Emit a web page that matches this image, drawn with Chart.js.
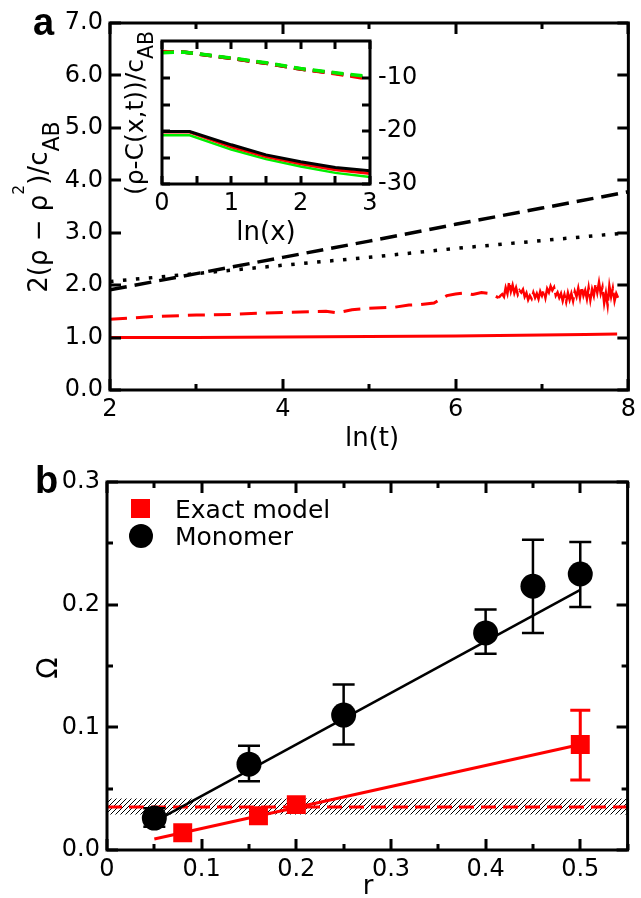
<!DOCTYPE html>
<html>
<head>
<meta charset="utf-8">
<script src="https://cdn.jsdelivr.net/npm/chart.js@4.4.0/dist/chart.umd.min.js"></script>
<style>
body { margin: 0; background: #fff; width: 641px; height: 898px; overflow: hidden; position: relative; }
.box { position: absolute; }
</style>
</head>
<body>
<div class="box" style="left:0;top:0;width:641px;height:460px"><canvas id="panelA"></canvas></div>
<div class="box" style="left:0;top:0;width:440px;height:260px"><canvas id="inset"></canvas></div>
<div class="box" style="left:0;top:460px;width:641px;height:438px"><canvas id="panelB"></canvas></div>
<script>
// ---- panel a : main curves ----
var lineT = [2, 3, 4, 5, 6, 7, 8];
var blackDashed = [1.91, 2.22, 2.53, 2.84, 3.16, 3.47, 3.78];
var blackDotted = [2.07, 2.22, 2.38, 2.53, 2.70, 2.85, 3.00];
var redSolidT = [2, 3, 4, 5, 6, 7, 7.5, 7.87];
var redSolid = [1.00, 1.00, 1.01, 1.02, 1.03, 1.05, 1.06, 1.07];
var redDashedT = [2.0, 2.5, 3.0, 3.4, 3.8, 4.2, 4.5, 4.63, 4.8, 5.0, 5.3, 5.46, 5.6, 5.75, 5.9, 6.0, 6.1, 6.2, 6.3, 6.4, 6.5];
var redDashed = [1.35, 1.40, 1.43, 1.44, 1.47, 1.49, 1.50, 1.47, 1.53, 1.56, 1.58, 1.62, 1.63, 1.66, 1.80, 1.83, 1.85, 1.82, 1.86, 1.84, 1.76];
var redNoisyT = [6.50, 6.52, 6.54, 6.56, 6.58, 6.60, 6.62, 6.64, 6.66, 6.68, 6.70, 6.72, 6.74, 6.76, 6.78, 6.80, 6.82, 6.84,
  6.86, 6.88, 6.90, 6.92, 6.94, 6.96, 6.98, 7.00, 7.02, 7.04, 7.06, 7.08, 7.10, 7.12, 7.14, 7.16, 7.18, 7.20, 7.22, 7.24,
  7.26, 7.28, 7.30, 7.32, 7.34, 7.36, 7.38, 7.40, 7.42, 7.44, 7.46, 7.48, 7.50, 7.52, 7.54, 7.56, 7.58, 7.60, 7.62, 7.64,
  7.66, 7.68, 7.70, 7.72, 7.74, 7.76, 7.78, 7.80, 7.82, 7.84, 7.86, 7.88];
var redNoisy = [1.76, 1.80, 1.83, 1.78, 1.95, 1.84, 2.06, 1.88, 2.00, 1.85, 1.95, 1.82, 1.90, 1.86, 1.92, 1.78, 1.85, 1.72,
  1.80, 1.74, 1.86, 1.76, 1.84, 1.74, 1.88, 1.80, 1.90, 1.76, 1.93, 1.86, 1.98, 1.90, 1.96, 1.80, 1.86, 1.76, 1.84, 1.70,
  1.82, 1.68, 1.85, 1.72, 1.84, 1.70, 1.88, 1.78, 1.94, 1.76, 1.96, 1.80, 1.90, 1.74, 1.95, 1.72, 1.92, 1.80, 2.02, 1.86,
  2.05, 1.84, 1.96, 1.66, 1.85, 1.62, 1.98, 1.78, 1.94, 1.70, 1.84, 1.76];

// ---- panel a : inset ----
var insetDashX = [0, 0.3, 0.5, 1, 1.5, 2, 2.5, 3];
var insetDashBlack = [-5.1, -5.1, -5.4, -6.3, -7.2, -8.3, -9.1, -10.0];
var insetDashRed = [-5.0, -5.1, -5.4, -6.3, -7.2, -8.3, -9.2, -10.2];
var insetDashGreen = [-5.2, -5.1, -5.4, -6.2, -7.1, -8.2, -9.0, -9.7];
var insetSolidX = [0, 0.4, 1, 1.5, 2, 2.5, 3];
var insetSolidBlack = [-20.1, -20.1, -22.6, -24.5, -25.8, -26.9, -27.5];
var insetSolidRed = [-20.2, -20.2, -23.0, -24.8, -26.2, -27.3, -28.0];
var insetSolidGreen = [-20.8, -20.8, -23.5, -25.3, -26.7, -27.9, -28.7];

// ---- panel b ----
var monoR = [0.05, 0.15, 0.25, 0.40, 0.45, 0.50];
var monoOmega = [0.026, 0.070, 0.110, 0.177, 0.215, 0.225];
var monoLo = [0.019, 0.056, 0.086, 0.160, 0.177, 0.198];
var monoHi = [0.034, 0.085, 0.135, 0.196, 0.253, 0.251];
var exactR = [0.08, 0.16, 0.20, 0.50];
var exactOmega = [0.014, 0.028, 0.037, 0.086];
var exactLo = [null, null, null, 0.057];
var exactHi = [null, null, null, 0.114];
var fitMonoR = [0.057, 0.50];
var fitMonoOmega = [0.026, 0.212];
var fitExactR = [0.05, 0.50];
var fitExactOmega = [0.009, 0.086];
var bandR = [0, 0.55];
var bandLo = [0.029, 0.029];
var bandHi = [0.042, 0.042];
var bandMid = [0.035, 0.035];

Chart.defaults.font.family = '"DejaVu Sans"';
Chart.defaults.color = '#000';

// Build x/y points
var pts = (xs, ys) => xs.map((x, i) => ({ x: x, y: ys[i] }));

// Plain line dataset
var curve = (xs, ys, color, width, dash) => ({
    data: pts(xs, ys),
    borderColor: color,
    borderWidth: width,
    borderDash: dash || [],
    pointRadius: 0,
    fill: false,
    tension: 0
});

// Axis box with inward ticks
var frame = {
    id: 'frame',
    beforeDraw(chart) {
        var a = chart.chartArea, ctx = chart.ctx;
        ctx.save();
        ctx.fillStyle = '#fff';
        ctx.fillRect(a.left, a.top, a.width, a.height);
        ctx.restore();
    },
    afterDatasetsDraw(chart, args, opts) {
        var a = chart.chartArea, ctx = chart.ctx;
        var xs = chart.scales.x, ys = chart.scales.y;
        ctx.save();
        ctx.strokeStyle = '#000';
        ctx.lineWidth = opts.width;
        ctx.lineCap = 'butt';
        ctx.beginPath();
        xs.ticks.forEach(t => {
            var px = Math.round(xs.getPixelForValue(t.value));
            var len = (t.label !== '' || opts.allMajor) ? opts.major : opts.minor;
            ctx.moveTo(px, a.bottom); ctx.lineTo(px, a.bottom - len);
            ctx.moveTo(px, a.top); ctx.lineTo(px, a.top + len);
        });
        ys.ticks.forEach(t => {
            var py = Math.round(ys.getPixelForValue(t.value));
            var len = (t.label !== '' || opts.allMajor) ? opts.major : opts.minor;
            ctx.moveTo(a.left, py); ctx.lineTo(a.left + len, py);
            ctx.moveTo(a.right, py); ctx.lineTo(a.right - len, py);
        });
        ctx.stroke();
        ctx.strokeRect(a.left, a.top, a.width, a.height);
        ctx.restore();
    }
};

// Text with sub / superscripts, optionally turned
var richText = (ctx, parts, cx, cy, size, turn) => {
    ctx.save();
    ctx.translate(cx, cy);
    if (turn) ctx.rotate(-Math.PI / 2);
    var total = 0;
    parts.forEach(p => {
        ctx.font = (p.s * size) + 'px "DejaVu Sans"';
        p.w = ctx.measureText(p.t).width;
        total += p.w;
    });
    var x = -total / 2;
    ctx.fillStyle = '#000';
    ctx.textBaseline = 'alphabetic';
    ctx.textAlign = 'left';
    parts.forEach(p => {
        ctx.font = (p.s * size) + 'px "DejaVu Sans"';
        ctx.fillText(p.t, x, p.dy * size);
        x += p.w;
    });
    ctx.restore();
};

var plainText = (ctx, text, x, y, font, align, turn) => {
    ctx.save();
    ctx.translate(x, y);
    if (turn) ctx.rotate(-Math.PI / 2);
    ctx.font = font;
    ctx.fillStyle = '#000';
    ctx.textAlign = align;
    ctx.textBaseline = 'alphabetic';
    ctx.fillText(text, 0, 0);
    ctx.restore();
};

var fixedScale = (min, max, step, size, pad, fmt, fit) => ({
    type: 'linear',
    min: min,
    max: max,
    grid: { display: false, drawTicks: false },
    border: { display: false },
    ticks: { stepSize: step, autoSkip: false, maxRotation: 0, padding: pad, font: { size: size }, callback: fmt },
    afterFit: fit
});

// ---------------- panel a ----------------
new Chart(document.getElementById('panelA'), {
    type: 'line',
    data: {
        datasets: [
            curve(redSolidT, redSolid, '#ff0000', 3),
            curve(redDashedT, redDashed, '#ff0000', 3, [17, 9]),
            curve(redNoisyT, redNoisy, '#ff0000', 2.5, [34, 4]),
            curve(lineT, blackDotted, '#000', 3.5, [3.5, 9.5]),
            curve(lineT, blackDashed, '#000', 3.5, [17, 8])
        ]
    },
    options: {
        responsive: true,
        maintainAspectRatio: false,
        animation: false,
        layout: { padding: { top: 23, right: 8, left: 0, bottom: 0 } },
        plugins: {
            legend: { display: false },
            tooltip: { enabled: false },
            frame: { width: 3, major: 11, minor: 6 }
        },
        scales: {
            x: fixedScale(2, 8, 1, 24, 5, v => (v % 2 === 0 ? String(v) : ''), s => { s.height = 70; }),
            y: fixedScale(0, 7, 1, 24, 7, v => v.toFixed(1), s => { s.width = 110; })
        }
    },
    plugins: [frame, {
        id: 'titlesA',
        afterDraw(chart) {
            var ctx = chart.ctx;
            plainText(ctx, 'a', 33, 35, 'bold 38px "Liberation Sans"', 'left');
            plainText(ctx, 'ln(t)', 372, 446, '26px "DejaVu Sans"', 'center');
            richText(ctx, [
                { t: '2(ρ − ρ', s: 1, dy: 0 },
                { t: '2', s: 0.6, dy: -0.88 },
                { t: ')/c', s: 1, dy: 0 },
                { t: 'AB', s: 0.85, dy: 0.45 }
            ], 47, 207, 26, true);
        }
    }]
});

// ---------------- inset ----------------
new Chart(document.getElementById('inset'), {
    type: 'line',
    data: {
        datasets: [
            curve(insetDashX, insetDashGreen, '#00ee00', 3.5, [12, 7]),
            curve(insetDashX, insetDashRed, '#ff0000', 3.5, [12, 7]),
            curve(insetDashX, insetDashBlack, '#000', 3.5, [12, 7]),
            curve(insetSolidX, insetSolidBlack, '#000', 3),
            curve(insetSolidX, insetSolidRed, '#ff0000', 3),
            curve(insetSolidX, insetSolidGreen, '#00ee00', 2.5)
        ]
    },
    options: {
        responsive: true,
        maintainAspectRatio: false,
        animation: false,
        layout: { padding: { top: 41, left: 162, right: 0, bottom: 0 } },
        plugins: {
            legend: { display: false },
            tooltip: { enabled: false },
            frame: { width: 3, major: 8, minor: 8, allMajor: true }
        },
        scales: {
            x: fixedScale(0, 3, 0.5, 24, 5, v => (Number.isInteger(v) ? String(v) : ''), s => { s.height = 76; }),
            y: Object.assign(
                fixedScale(-30, -3, 5, 24, 8, v => (v % 10 === 0 ? String(v) : ''), s => { s.width = 70; }),
                {
                    position: 'right',
                    afterBuildTicks: s => { s.ticks = s.ticks.filter(t => t.value % 5 === 0); }
                })
        }
    },
    plugins: [frame, {
        id: 'titlesInset',
        afterDraw(chart) {
            var ctx = chart.ctx;
            plainText(ctx, 'ln(x)', 266, 240, '26px "DejaVu Sans"', 'center');
            richText(ctx, [
                { t: '(ρ-C(x,t))/c', s: 1, dy: 0 },
                { t: 'AB', s: 0.82, dy: 0.4 }
            ], 143, 113, 25, true);
        }
    }]
});

// ---------------- panel b ----------------
// Hatch fill for the band
var hatch = (() => {
    var c = document.createElement('canvas');
    c.width = 5; c.height = 5;
    var g = c.getContext('2d');
    g.strokeStyle = '#000';
    g.lineWidth = 1;
    g.beginPath();
    g.moveTo(0, 5); g.lineTo(5, 0);
    g.moveTo(-1, 1); g.lineTo(1, -1);
    g.moveTo(4, 6); g.lineTo(6, 4);
    g.stroke();
    return g.createPattern(c, 'repeat');
})();

// Error bars drawn just before the markers of a dataset
var errorBars = {
    id: 'errorBars',
    beforeDatasetDraw(chart, args) {
        var ds = chart.data.datasets[args.index];
        if (!ds.errLo) return;
        var ctx = chart.ctx, xs = chart.scales.x, ys = chart.scales.y;
        ctx.save();
        ctx.strokeStyle = ds.backgroundColor;
        ctx.lineWidth = ds.errWidth;
        ctx.beginPath();
        ds.data.forEach((p, i) => {
            if (ds.errLo[i] === null) return;
            var px = xs.getPixelForValue(p.x);
            var lo = ys.getPixelForValue(ds.errLo[i]);
            var hi = ys.getPixelForValue(ds.errHi[i]);
            var c = ds.capHalf;
            ctx.moveTo(px, lo); ctx.lineTo(px, hi);
            ctx.moveTo(px - c, lo); ctx.lineTo(px + c, lo);
            ctx.moveTo(px - c, hi); ctx.lineTo(px + c, hi);
        });
        ctx.stroke();
        ctx.restore();
    }
};

var fmtB = v => {
    var k = Math.round(v * 100);
    if (k % 10 !== 0) return '';
    return k === 0 ? '0' : (k / 100).toFixed(1);
};
var fmtBy = v => {
    var k = Math.round(v * 100);
    return k % 10 === 0 ? (k / 100).toFixed(1) : '';
};

new Chart(document.getElementById('panelB'), {
    type: 'line',
    data: {
        datasets: [
            {
                label: 'Exact model',
                data: pts(exactR, exactOmega),
                showLine: false,
                pointStyle: 'rect',
                pointRadius: 13.4,
                pointBorderWidth: 0,
                backgroundColor: '#ff0000',
                borderColor: '#ff0000',
                errLo: exactLo, errHi: exactHi, errWidth: 3, capHalf: 10,
                order: 0
            },
            {
                label: 'Monomer',
                data: pts(monoR, monoOmega),
                showLine: false,
                pointStyle: 'circle',
                pointRadius: 12.5,
                pointBorderWidth: 0,
                backgroundColor: '#000',
                borderColor: '#000',
                errLo: monoLo, errHi: monoHi, errWidth: 2.5, capHalf: 11,
                order: 1
            },
            Object.assign(curve(fitMonoR, fitMonoOmega, '#000', 2.5), { order: 2 }),
            Object.assign(curve(fitExactR, fitExactOmega, '#ff0000', 3), { order: 3 }),
            Object.assign(curve(bandR, bandMid, '#ff0000', 3, [15, 7]), { order: 4 }),
            Object.assign(curve(bandR, bandHi, 'rgba(0,0,0,0)', 0), { fill: '+1', backgroundColor: hatch, order: 5 }),
            Object.assign(curve(bandR, bandLo, 'rgba(0,0,0,0)', 0), { order: 6 })
        ]
    },
    options: {
        responsive: true,
        maintainAspectRatio: false,
        animation: false,
        layout: { padding: { top: 22, right: 9, left: 0, bottom: 0 } },
        plugins: {
            legend: { display: false },
            tooltip: { enabled: false },
            frame: { width: 3, major: 11, minor: 6 }
        },
        scales: {
            x: fixedScale(0, 0.55, 0.05, 24, 5, fmtB, s => { s.height = 48; }),
            y: fixedScale(0, 0.3, 0.05, 24, 7, fmtBy, s => { s.width = 107; })
        }
    },
    plugins: [frame, errorBars, {
        id: 'titlesB',
        afterDraw(chart) {
            var ctx = chart.ctx;
            plainText(ctx, 'b', 35, 33, 'bold 38px "Liberation Sans"', 'left');
            plainText(ctx, 'Ω', 57, 208, '28px "DejaVu Sans"', 'center', true);
            plainText(ctx, 'r', 368, 434, '26px "DejaVu Sans"', 'center');
            // legend
            ctx.save();
            ctx.fillStyle = '#ff0000';
            ctx.fillRect(131, 39, 19, 19);
            ctx.fillStyle = '#000';
            ctx.beginPath();
            ctx.arc(141, 76, 12, 0, Math.PI * 2);
            ctx.fill();
            ctx.restore();
            plainText(ctx, 'Exact model', 175, 58, '25px "DejaVu Sans"', 'left');
            plainText(ctx, 'Monomer', 175, 85, '25px "DejaVu Sans"', 'left');
        }
    }]
});
</script>
</body>
</html>
